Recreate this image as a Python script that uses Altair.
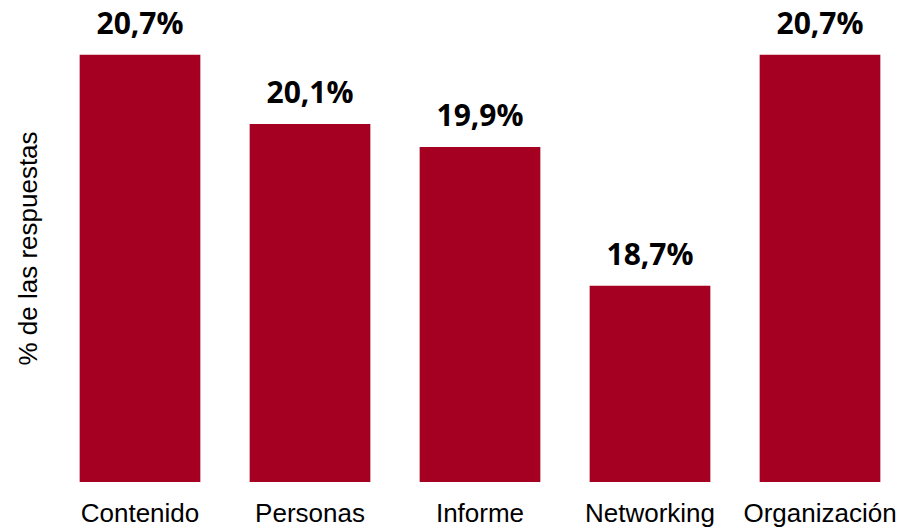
import altair as alt
import pandas as pd

categories = ["Contenido", "Personas", "Informe", "Networking", "Organización"]
values = [20.7, 20.1, 19.9, 18.7, 20.7]
labels = ["20,7%", "20,1%", "19,9%", "18,7%", "20,7%"]

df = pd.DataFrame({"categoria": categories, "valor": values, "etiqueta": labels})

x_enc = alt.X(
    "categoria:N",
    sort=categories,
    scale=alt.Scale(paddingInner=0.29, paddingOuter=0.145),
    axis=alt.Axis(
        title=None, labelAngle=0, ticks=False, tickSize=0, domain=False,
        labelFont="Liberation Sans", labelFontSize=26, labelColor="#000000",
        labelBaseline="alphabetic", labelPadding=39,
    ),
)
y_enc = alt.Y(
    "valor:Q",
    scale=alt.Scale(domain=[17, 21], zero=False, nice=False),
    axis=alt.Axis(
        title="% de las respuestas", labels=False, ticks=False, domain=False, grid=False,
        titleFont="Liberation Sans", titleFontSize=26, titleFontWeight="normal",
        titleColor="#000000", titleAngle=-90, titleX=-19, titleY=228,
        titleAlign="center", titleBaseline="alphabetic",
    ),
)

bars = alt.Chart(df).mark_bar(color="#A50021").encode(
    x=x_enc, y=y_enc, y2=alt.datum(17)
)

text = alt.Chart(df).mark_text(
    font="Open Sans", fontSize=30, fontWeight="bold", color="#000000",
    baseline="alphabetic", dy=-21,
).encode(x=x_enc, y=y_enc, text="etiqueta:N")

chart = alt.layer(bars, text).properties(
    width=850, height=462,
    padding={"left": 55, "top": 20, "right": 15, "bottom": 46},
    autosize=alt.AutoSizeParams(type="none"),
    background="#ffffff",
).configure_view(stroke=None)

chart.save("out.html", embed_options={"renderer": "svg", "actions": False})
